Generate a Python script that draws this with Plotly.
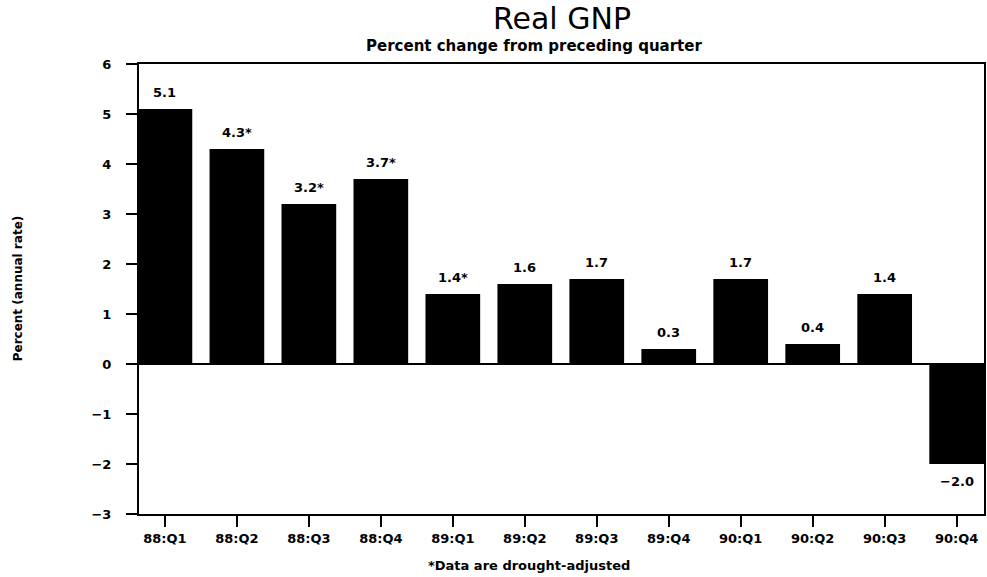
import plotly.graph_objects as go

quarters = ["88:Q1", "88:Q2", "88:Q3", "88:Q4", "89:Q1", "89:Q2",
            "89:Q3", "89:Q4", "90:Q1", "90:Q2", "90:Q3", "90:Q4"]
values = [5.1, 4.3, 3.2, 3.7, 1.4, 1.6, 1.7, 0.3, 1.7, 0.4, 1.4, -2.0]
drought_adjusted = [False, True, True, True, True, False,
                    False, False, False, False, False, False]
y_ticks = [-3, -2, -1, 0, 1, 2, 3, 4, 5, 6]

labels = [("%.1f" % v).replace("-", "\u2212") + ("*" if d else "")
          for v, d in zip(values, drought_adjusted)]

FONT = "DejaVu Sans"
W, H = 987, 577
ML, MR, MT, MB = 139, 1, 64, 63
PW, PH = W - ML - MR, H - MT - MB


def px_x(x):
    return (x - ML) / PW


def px_y(y):
    return (H - MB - y) / PH


fig = go.Figure()
fig.add_trace(go.Bar(
    x=list(range(len(quarters))), y=values,
    marker=dict(color="black", line=dict(width=0)),
    width=0.76,
    showlegend=False,
    hoverinfo="x+y",
))

for i, (v, lab) in enumerate(zip(values, labels)):
    fig.add_annotation(
        x=i, y=v, text=lab, showarrow=False,
        xanchor="center", yanchor="bottom" if v >= 0 else "top",
        yshift=7 if v >= 0 else -8,
        font=dict(family=FONT, size=13, color="black", weight="bold"),
    )

fig.update_layout(
    width=W, height=H,
    paper_bgcolor="white", plot_bgcolor="white",
    margin=dict(l=ML, r=MR, t=MT, b=MB),
    bargap=0.24,
)

fig.add_annotation(
    text="Real GNP", xref="paper", yref="paper",
    x=px_x(563), y=px_y(18), xanchor="center", yanchor="middle",
    showarrow=False,
    font=dict(family=FONT, size=30, color="black"),
)
fig.add_annotation(
    text="Percent change from preceding quarter", xref="paper", yref="paper",
    x=px_x(535), y=px_y(46), xanchor="center", yanchor="middle",
    showarrow=False,
    font=dict(family=FONT, size=15, color="black", weight="bold"),
)
fig.add_annotation(
    text="*Data are drought-adjusted", xref="paper", yref="paper",
    x=px_x(530), y=px_y(565), xanchor="center", yanchor="middle",
    showarrow=False,
    font=dict(family=FONT, size=13, color="black", weight="bold"),
)
fig.add_annotation(
    text="Percent (annual rate)", xref="paper", yref="paper",
    x=px_x(18), y=px_y(288), xanchor="center", yanchor="middle",
    textangle=-90, showarrow=False,
    font=dict(family=FONT, size=12, color="black", weight="bold"),
)

fig.update_xaxes(
    range=[-0.36, 11.38],
    tickvals=list(range(len(quarters))), ticktext=quarters,
    ticks="outside", ticklen=11, tickwidth=2, tickcolor="black",
    tickfont=dict(family=FONT, size=13, color="black", weight="bold"),
    showline=True, linecolor="black", linewidth=2, mirror=True,
    showgrid=False, zeroline=False,
)
fig.update_yaxes(
    range=[-3, 6],
    tickvals=y_ticks,
    ticktext=[str(t).replace("-", "\u2212") for t in y_ticks],
    ticks="outside", ticklen=11, tickwidth=2, tickcolor="black",
    ticklabelstandoff=12,
    tickfont=dict(family=FONT, size=13, color="black", weight="bold"),
    showline=True, linecolor="black", linewidth=2, mirror=True,
    showgrid=False, zeroline=True, zerolinecolor="black", zerolinewidth=2,
)

fig.write_html("out.html",
               config={"displayModeBar": False},
               post_script="document.body.style.margin='0';")
